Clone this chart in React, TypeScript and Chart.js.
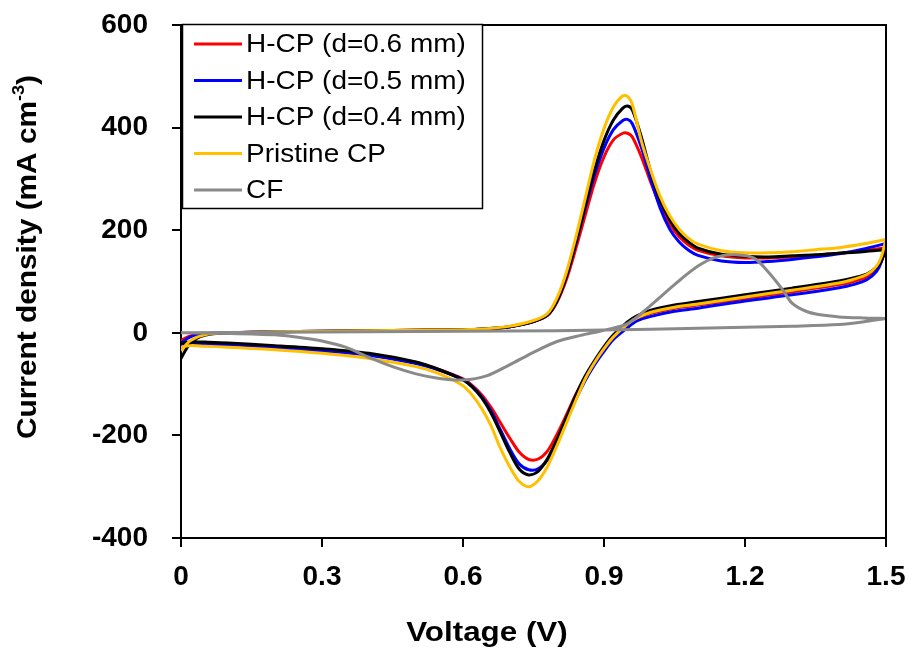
import React, { useEffect, useRef } from 'react';
import { Chart, registerables } from 'chart.js';

Chart.register(...registerables);

const seriesLabels = ['H-CP (d=0.6 mm)', 'H-CP (d=0.5 mm)', 'H-CP (d=0.4 mm)', 'Pristine CP', 'CF'];
const seriesColors = ['#ff0000', '#0000ff', '#000000', '#ffc000', '#8a8a8a'];
const xTickValues = [0, 0.3, 0.6, 0.9, 1.2, 1.5];
const yTickValues = [-400, -200, 0, 200, 400, 600];
const xTitle = 'Voltage (V)';
const yTitleMain = 'Current density (mA cm';
const yTitleSup = '-3';
const yTitleEnd = ')';

// anodic sweep voltages (V) for the carbon-paper electrodes
const forwardV = [0, 0.02, 0.05, 0.1, 0.2, 0.3, 0.4, 0.5, 0.6, 0.65, 0.7, 0.75, 0.78, 0.8, 0.82, 0.84, 0.86, 0.88, 0.9, 0.92, 0.94, 0.95, 0.96, 0.98, 1.0, 1.02, 1.04, 1.06, 1.08, 1.1, 1.15, 1.2, 1.25, 1.3, 1.35, 1.4, 1.45, 1.5];
// cathodic sweep voltages (V)
const reverseV = [1.5, 1.49, 1.48, 1.46, 1.43, 1.4, 1.3, 1.2, 1.1, 1.05, 1.0, 0.97, 0.95, 0.92, 0.9, 0.88, 0.86, 0.84, 0.82, 0.8, 0.78, 0.76, 0.74, 0.72, 0.7, 0.68, 0.66, 0.64, 0.62, 0.6, 0.55, 0.5, 0.4, 0.3, 0.2, 0.1, 0.05, 0.02, 0];

const hcp06Forward = [-15, -6, -2, 0, 2, 3, 4, 5, 6, 8, 12, 22, 34, 60, 104, 164, 229, 293, 343, 376, 389, 389, 382, 342, 292, 247, 212, 187, 171, 161, 150, 146, 146, 148, 151, 155, 160, 166];
const hcp06Reverse = [166, 140, 126, 110, 100, 94, 80, 67, 54, 48, 38, 28, 15, -9, -32, -57, -86, -120, -160, -198, -230, -246, -247, -233, -206, -176, -146, -121, -103, -90, -72, -58, -42, -34, -28, -23, -21, -20, -18];

const hcp05Forward = [-20, -8, -2, 0, 2, 3, 4, 5, 6, 8, 12, 22, 35, 63, 110, 174, 243, 308, 360, 396, 414, 416, 408, 360, 298, 242, 202, 177, 161, 151, 140, 137, 139, 143, 148, 154, 163, 174];
const hcp05Reverse = [174, 138, 120, 104, 94, 88, 74, 62, 48, 42, 32, 23, 10, -13, -36, -62, -93, -130, -172, -214, -247, -265, -267, -256, -227, -190, -153, -125, -105, -91, -73, -60, -44, -35, -29, -24, -22, -22, -22];

const hcp04Forward = [-50, -20, -5, 0, 2, 3, 4, 5, 6, 8, 12, 22, 35, 62, 110, 176, 248, 318, 375, 415, 438, 442, 435, 380, 312, 258, 220, 194, 177, 165, 153, 149, 148, 150, 152, 155, 158, 162];
const hcp04Reverse = [162, 140, 128, 115, 107, 101, 87, 74, 61, 54, 44, 33, 21, -4, -27, -54, -84, -122, -165, -208, -245, -270, -277, -266, -234, -195, -157, -127, -106, -92, -72, -57, -40, -31, -25, -20, -18, -18, -20];

const pristineForward = [-35, -15, -4, 0, 2, 3, 4, 5, 6, 8, 13, 24, 38, 68, 118, 186, 262, 338, 398, 440, 462, 461, 446, 372, 315, 265, 228, 202, 184, 173, 160, 156, 156, 158, 162, 166, 173, 182];
const pristineReverse = [182, 148, 130, 114, 104, 97, 83, 70, 56, 50, 40, 29, 17, -8, -31, -58, -90, -132, -176, -220, -260, -288, -300, -290, -262, -226, -182, -148, -122, -103, -80, -66, -50, -40, -33, -28, -26, -25, -28];

// carbon felt
const cfPeakV = [0, 0.1, 0.2, 0.26, 0.3, 0.35, 0.4, 0.45, 0.5, 0.55, 0.6, 0.65, 0.7, 0.75, 0.8, 0.85, 0.9, 0.95, 1.0, 1.05, 1.1, 1.14, 1.18, 1.22, 1.25, 1.28, 1.3, 1.33, 1.36, 1.4, 1.45, 1.5];
const cfPeakI = [0, -1, -4, -10, -16, -28, -48, -66, -80, -89, -92, -84, -62, -38, -17, -5, 5, 18, 54, 94, 130, 148, 152, 145, 118, 84, 58, 42, 35, 31, 29, 28];
const cfFlatV = [1.5, 1.45, 1.4, 1.3, 1.2, 1.1, 1.0, 0.8, 0.6, 0.4, 0.2, 0];
const cfFlatI = [28, 21, 16, 13, 11, 9, 7, 4, 3, 2, 1, 0];

const loop = (v1: number[], i1: number[], v2: number[], i2: number[]) =>
  v1.map((v, k) => ({ x: v, y: i1[k] })).concat(v2.map((v, k) => ({ x: v, y: i2[k] })));

const seriesPoints = [
  loop(forwardV, hcp06Forward, reverseV, hcp06Reverse),
  loop(forwardV, hcp05Forward, reverseV, hcp05Reverse),
  loop(forwardV, hcp04Forward, reverseV, hcp04Reverse),
  loop(forwardV, pristineForward, reverseV, pristineReverse),
  loop(cfPeakV, cfPeakI, cfFlatV, cfFlatI),
];

const FONT = '"Liberation Sans", Arial, Helvetica, sans-serif';

const framePlugin = {
  id: 'frame',
  afterDatasetsDraw(chart: any) {
    const { ctx, chartArea } = chart;
    ctx.save();
    ctx.strokeStyle = '#000';
    ctx.lineWidth = 2;
    ctx.beginPath();
    ctx.moveTo(chartArea.left, chartArea.top);
    ctx.lineTo(chartArea.right, chartArea.top);
    ctx.lineTo(chartArea.right, chartArea.bottom);
    ctx.stroke();
    ctx.restore();
  },
};

const legendPlugin = {
  id: 'boxLegend',
  afterDraw(chart: any) {
    const { ctx } = chart;
    const ds = chart.data.datasets;
    ctx.save();
    ctx.fillStyle = '#fff';
    ctx.fillRect(182, 24, 301, 185);
    ctx.strokeStyle = '#000';
    ctx.lineWidth = 1.5;
    ctx.strokeRect(182.5, 24.5, 300, 184);
    ds.forEach((d: any, i: number) => {
      const y = 44 + i * 36.5;
      ctx.strokeStyle = d.borderColor;
      ctx.lineWidth = 3;
      ctx.beginPath();
      ctx.moveTo(194, y);
      ctx.lineTo(242, y);
      ctx.stroke();
      ctx.save();
      ctx.translate(246, y + 1);
      ctx.scale(1.075, 1);
      ctx.font = `26px ${FONT}`;
      ctx.textBaseline = 'middle';
      ctx.textAlign = 'left';
      ctx.fillStyle = '#000';
      ctx.fillText(d.label, 0, 0);
      ctx.restore();
    });
    ctx.restore();
  },
};

const titlesPlugin = {
  id: 'axisTitles',
  afterDraw(chart: any) {
    const { ctx } = chart;
    const bigFont = `bold 28px ${FONT}`;
    const smallFont = `bold 17px ${FONT}`;
    // y title
    ctx.save();
    ctx.translate(28, 257);
    ctx.rotate(-Math.PI / 2);
    ctx.scale(1.065, 1);
    ctx.fillStyle = '#000';
    ctx.textBaseline = 'middle';
    ctx.textAlign = 'left';
    ctx.font = bigFont;
    const w1 = ctx.measureText(yTitleMain).width;
    const w3 = ctx.measureText(yTitleEnd).width;
    ctx.font = smallFont;
    const w2 = ctx.measureText(yTitleSup).width;
    let x = -(w1 + w2 + w3) / 2;
    ctx.font = bigFont;
    ctx.fillText(yTitleMain, x, 0);
    x += w1;
    ctx.font = smallFont;
    ctx.fillText(yTitleSup, x, -9);
    x += w2;
    ctx.font = bigFont;
    ctx.fillText(yTitleEnd, x, 0);
    ctx.restore();
    // x title
    ctx.save();
    ctx.translate(487, 633);
    ctx.scale(1.12, 1);
    ctx.fillStyle = '#000';
    ctx.textBaseline = 'middle';
    ctx.textAlign = 'center';
    ctx.font = bigFont;
    ctx.fillText(xTitle, 0, 0);
    ctx.restore();
  },
};

export default function App() {
  const canvasRef = useRef<HTMLCanvasElement | null>(null);

  useEffect(() => {
    const canvas = canvasRef.current;
    if (!canvas) return;
    const chart = new Chart(canvas, {
      type: 'scatter',
      data: {
        datasets: seriesLabels.map((label, i) => ({
          label,
          data: seriesPoints[i],
          borderColor: seriesColors[i],
          backgroundColor: seriesColors[i],
          borderWidth: 3,
          showLine: true,
          pointRadius: 0,
          pointHoverRadius: 0,
          tension: 0.3,
          fill: false,
          order: seriesLabels.length - 1 - i,
        })),
      },
      options: {
        responsive: false,
        animation: false,
        events: [],
        layout: { padding: { left: 0, top: 25, right: 25, bottom: 0 } },
        plugins: {
          legend: { display: false },
          tooltip: { enabled: false },
          title: { display: false },
        },
        scales: {
          x: {
            type: 'linear',
            min: 0,
            max: 1.5,
            afterBuildTicks: (scale: any) => {
              scale.ticks = xTickValues.map((v) => ({ value: v }));
            },
            afterFit: (scale: any) => {
              scale.height = 118;
              scale.paddingLeft = 0;
              scale.paddingRight = 0;
            },
            grid: {
              drawOnChartArea: false,
              drawTicks: true,
              tickLength: 9,
              color: '#000',
              lineWidth: 2,
            },
            border: { display: true, color: '#000', width: 2 },
            ticks: {
              color: '#000',
              padding: 13,
              maxRotation: 0,
              autoSkip: false,
              font: { family: FONT, size: 28, weight: 'bold' },
              callback: (v: any) => String(v),
            },
            title: { display: false },
          },
          y: {
            type: 'linear',
            min: -400,
            max: 600,
            afterBuildTicks: (scale: any) => {
              scale.ticks = yTickValues.map((v) => ({ value: v }));
            },
            afterFit: (scale: any) => {
              scale.width = 181;
              scale.paddingTop = 0;
              scale.paddingBottom = 0;
            },
            grid: {
              drawOnChartArea: false,
              drawTicks: true,
              tickLength: 9,
              color: '#000',
              lineWidth: 2,
            },
            border: { display: true, color: '#000', width: 2 },
            ticks: {
              color: '#000',
              padding: 24,
              autoSkip: false,
              font: { family: FONT, size: 28, weight: 'bold' },
              callback: (v: any) => String(v),
            },
            title: { display: false },
          },
        },
      },
      plugins: [framePlugin, legendPlugin, titlesPlugin],
    } as any);
    return () => chart.destroy();
  }, []);

  return (
    <div style={{ position: 'fixed', left: 0, top: 0, width: 911, height: 656, background: '#fff' }}>
      <canvas ref={canvasRef} width={911} height={656} style={{ display: 'block' }} />
    </div>
  );
}
